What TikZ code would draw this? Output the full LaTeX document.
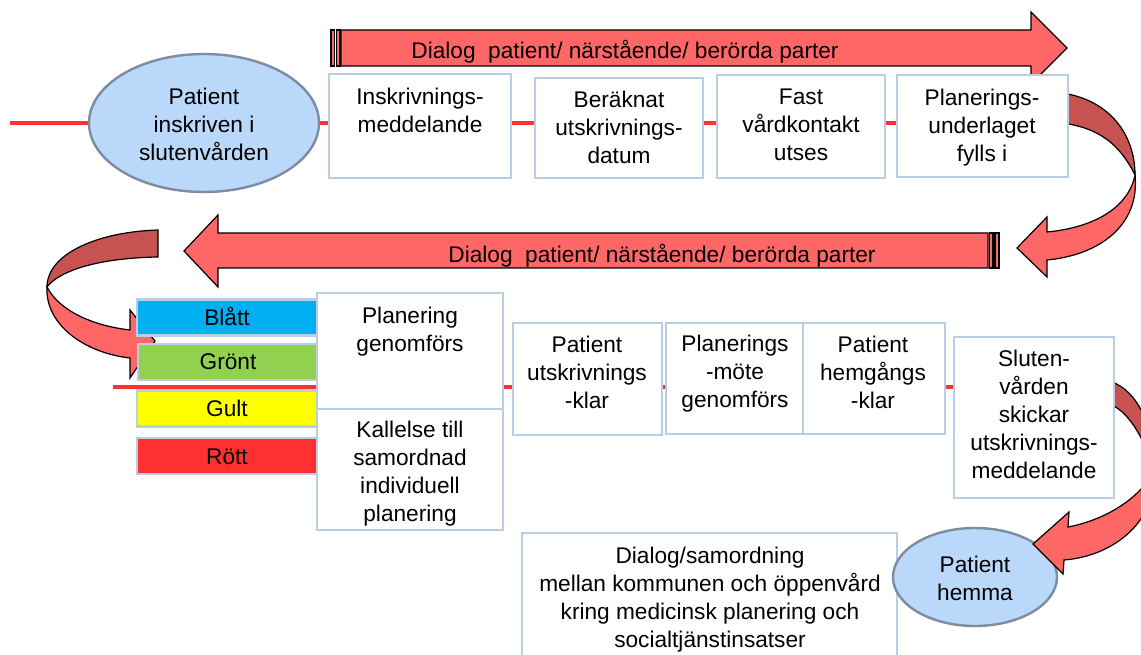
\documentclass[tikz,border=0pt]{standalone}
\usepackage{fontspec}
\setmainfont{Liberation Sans}
\usetikzlibrary{shapes.geometric,fit,backgrounds}
\definecolor{boxblue}{RGB}{185,205,229}
\definecolor{ellfill}{RGB}{186,217,250}
\definecolor{elldraw}{RGB}{125,140,160}
\definecolor{arrowred}{RGB}{255,102,102}
\definecolor{darkred}{RGB}{198,82,82}
\definecolor{linered}{RGB}{255,50,50}
\definecolor{cblue}{RGB}{0,176,240}
\definecolor{cgreen}{RGB}{146,208,80}
\definecolor{cyellow}{RGB}{255,255,0}
\definecolor{cred}{RGB}{255,48,48}
\begin{document}
\begin{tikzpicture}[x=0.75pt,y=-0.75pt,
  txt/.style={align=center,inner sep=0pt,font=\fontsize{17pt}{21pt}\selectfont,
    execute at begin node=\strut,execute at end node=\strut},
  boxn/.style={draw=boxblue,line width=2pt,fill=white,inner sep=0pt},
  ell/.style={ellipse,draw=elldraw,line width=1.8pt,fill=ellfill,inner sep=0pt},
  bar/.style={draw=boxblue,line width=1.8pt,inner sep=0pt,minimum width=135pt,minimum height=27pt,txt},
  arr/.style={fill=arrowred,draw=black,line width=0.9pt,line join=miter},
  arrdark/.style={fill=darkred,draw=black,line width=0.9pt},
  redline/.style={draw=linered,line width=3pt}
]
\useasboundingbox (0,0) rectangle (1141,655);
\clip (0,0) rectangle (1141,655);

% straight dialog arrows
\draw[arr] (341,30) -- (1031,30) -- (1031,12) -- (1067,48) -- (1031,84) -- (1031,66) -- (341,66) -- cycle;
\draw[arr] (331,30) rectangle (334.5,66);
\draw[arr] (336.5,30) rectangle (340,66);
\node[txt] (d1) at (625,52.5) {Dialog\ \ patient/ närstående/ berörda parter};

\draw[arr] (988,233) -- (218,233) -- (218,215) -- (184,251) -- (218,287) -- (218,268) -- (988,268) -- cycle;
\draw[arr] (989.5,233) rectangle (993,268);
\draw[arr] (995,233) rectangle (999,268);
\node[txt] (d2) at (662,256.5) {Dialog\ \ patient/ närstående/ berörda parter};

% curved arrow top right
\draw[arrdark] (1062,93) .. controls (1110,100) and (1135,135) .. (1135,175) .. controls (1120,145) and (1100,128) .. (1062,123) -- cycle;
\draw[arr] (1135,175) .. controls (1128,210) and (1090,228) .. (1047,232) -- (1047,217) -- (1017,248) -- (1047,277) -- (1047,260) .. controls (1100,255) and (1140,225) .. (1135,175) -- cycle;

% curved arrow left
\draw[arrdark] (158,230) .. controls (95,232) and (47,255) .. (47,287) .. controls (60,270) and (100,258) .. (158,257) -- cycle;
\draw[arr] (47,287) .. controls (60,312) and (95,326) .. (130,330) -- (130,310) -- (155,341) -- (130,378) -- (130,358) .. controls (85,353) and (45,325) .. (47,287) -- cycle;

% top row
\node[ell,minimum width=172.5pt,minimum height=103.5pt] (e1) at (204,123) {};
\node[txt] (e1t) at (204,128) {Patient\\inskriven i\\slutenvården};
\node[boxn,fit={(329,74) (511,178)}] (b1) {};
\node[txt] (b1t) at (420,114) {Inskrivnings-\\meddelande};
\node[boxn,fit={(535,78) (703,178)}] (b2) {};
\node[txt] (b2t) at (619,131) {Beräknat\\utskrivnings-\\datum};
\node[boxn,fit={(717,75) (885,178)}] (b3) {};
\node[txt] (b3t) at (801,129) {Fast\\vårdkontakt\\utses};
\node[boxn,fit={(897,75) (1068,177)}] (b4) {};
\node[txt] (b4t) at (982,129) {Planerings-\\underlaget\\fylls i};

% colour bars
\node[bar,fill=cblue] (blue) at (227,317.5) {\raisebox{-1.8pt}{Blått}};
\node[bar,fill=cgreen] (green) at (228,362) {\raisebox{-1.8pt}{Grönt}};
\node[bar,fill=cyellow] (yellow) at (227,408.5) {\raisebox{-1.8pt}{Gult}};
\node[bar,fill=cred] (red) at (227,456) {\raisebox{-1.8pt}{Rött}};

% second row
\node[boxn,fit={(317,293) (503,409)}] (pg) {};
\node[txt] (pgt) at (410,333) {Planering\\genomförs};
\node[boxn,fit={(317,409) (503,530)}] (kal) {};
\node[txt] (kalt) at (410,475.5) {Kallelse till\\samordnad\\individuell\\planering};
\node[boxn,fit={(513,323) (662,435)}] (pu) {};
\node[txt] (put) at (587,376.5) {Patient\\utskrivnings\\-klar};
\node[boxn,fit={(666,323) (803,434)}] (pm) {};
\node[txt] (pmt) at (735,375.5) {Planerings\\-möte\\genomförs};
\node[boxn,fit={(803,323) (945,434)}] (ph) {};
\node[txt] (pht) at (873,376.5) {Patient\\hemgångs\\-klar};

% bottom
\node[boxn,fit={(522,533) (897,670)}] (dl) {};
\node[txt] (dlt) at (710,601.5) {Dialog/samordning\\mellan kommunen och öppenvård\\kring medicinsk planering och\\socialtjänstinsatser};
\node[ell,minimum width=123pt,minimum height=73.5pt] (e2) at (975,577) {};
\node[txt] (e2t) at (975,582) {Patient\\hemma};

% curved arrow bottom right
\draw[arrdark] (1105,380) .. controls (1135,386) and (1152,420) .. (1155,468) .. controls (1142,438) and (1130,410) .. (1105,402) -- cycle;
\draw[arr] (1155,468) .. controls (1142,498) and (1105,520) .. (1068,527) -- (1069,512) -- (1033,544) -- (1063,574) -- (1064,560) .. controls (1115,556) and (1158,520) .. (1155,468) -- cycle;

\node[boxn,fit={(954,337) (1114,498)}] (sl) {};
\node[txt] (slt) at (1034,418) {Sluten-\\vården\\skickar\\utskrivnings-\\meddelande};

% red process lines
\coordinate (l1s) at (10,123);
\coordinate (l2s) at (113,387);
\begin{scope}[on background layer]
\fill[white] (0,0) rectangle (1141,655);
\draw[redline] (l1s) -- (l1s -| b4.west);
\draw[redline] (l2s) -- (l2s -| sl.west);
\end{scope}
\end{tikzpicture}
\end{document}
